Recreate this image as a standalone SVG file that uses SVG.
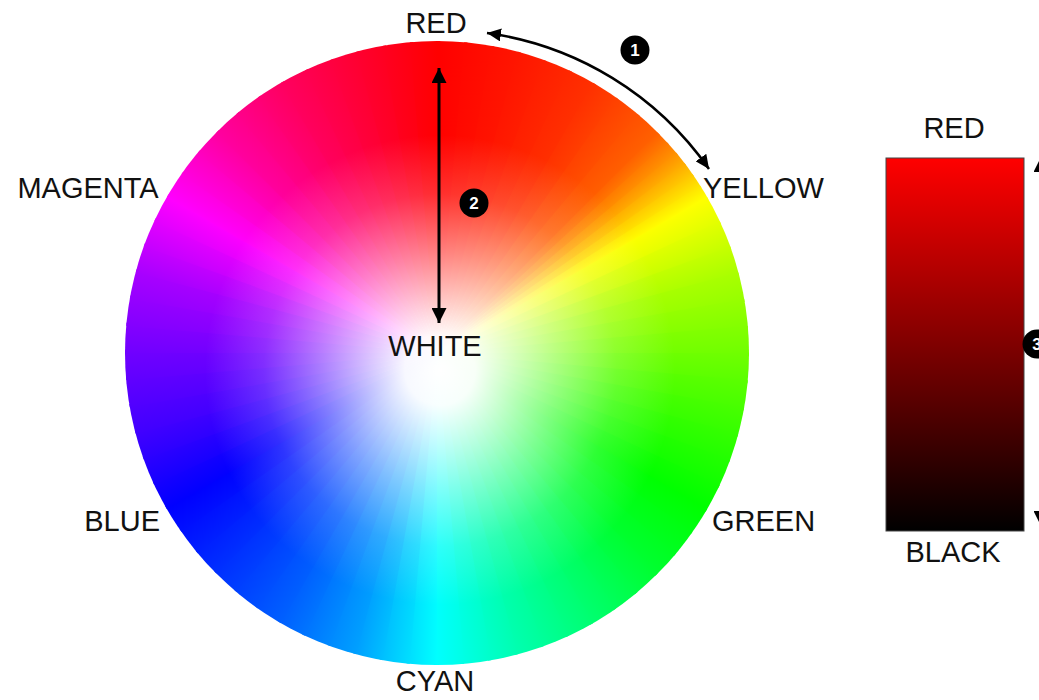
<svg xmlns="http://www.w3.org/2000/svg" xmlns:xlink="http://www.w3.org/1999/xlink" width="1039" height="700" viewBox="0 0 1039 700">
<style>
.lbl{font-family:"Liberation Sans",Arial,sans-serif;font-size:29px;fill:#111}
.num{font-family:"Liberation Sans",Arial,sans-serif;font-size:17px;font-weight:bold;fill:#fff;text-anchor:middle}
.badge{fill:#000}
.ln{fill:none;stroke:#000;stroke-width:3}
.arc{fill:none;stroke:#000;stroke-width:2.5}
</style>
<defs>
<marker id="ah" viewBox="0 0 15 15" refX="15" refY="7.5" markerWidth="15" markerHeight="15" markerUnits="userSpaceOnUse" orient="auto-start-reverse"><path d="M0,0 L15,7.5 L0,15 z" fill="#000"/></marker>
<marker id="ah2" viewBox="0 0 14 13" refX="14" refY="6.5" markerWidth="14" markerHeight="13" markerUnits="userSpaceOnUse" orient="auto-start-reverse"><path d="M0,0 L14,6.5 L0,13 z" fill="#000"/></marker>
<clipPath id="cc"><circle cx="0" cy="0" r="312"/></clipPath>
<radialGradient id="wh" cx="440" cy="370" r="235" gradientUnits="userSpaceOnUse">
<stop offset="0" stop-color="#fff" stop-opacity="1"/>
<stop offset="0.15" stop-color="#fff" stop-opacity="0.97"/>
<stop offset="0.5" stop-color="#fff" stop-opacity="0.5"/>
<stop offset="0.75" stop-color="#fff" stop-opacity="0.18"/>
<stop offset="1" stop-color="#fff" stop-opacity="0"/>
</radialGradient>
<linearGradient id="bar" x1="0" y1="0" x2="0" y2="1">
<stop offset="0" stop-color="#ff0000"/><stop offset="1" stop-color="#000"/>
</linearGradient>
<linearGradient id="gb" gradientUnits="userSpaceOnUse" x1="0" y1="-312" x2="27.19" y2="-310.81"/>
<linearGradient id="gh" gradientUnits="userSpaceOnUse" x1="0" y1="-312" x2="13.61" y2="-311.7"/>
<linearGradient id="g0" xlink:href="#gb"><stop offset="0" stop-color="#ff0000"/><stop offset="1" stop-color="#ff0700"/></linearGradient>
<linearGradient id="g1" xlink:href="#gb"><stop offset="0" stop-color="#ff0700"/><stop offset="1" stop-color="#ff0e00"/></linearGradient>
<linearGradient id="g2" xlink:href="#gb"><stop offset="0" stop-color="#ff0e00"/><stop offset="1" stop-color="#ff1500"/></linearGradient>
<linearGradient id="g3" xlink:href="#gb"><stop offset="0" stop-color="#ff1500"/><stop offset="1" stop-color="#ff1e00"/></linearGradient>
<linearGradient id="g4" xlink:href="#gb"><stop offset="0" stop-color="#ff1e00"/><stop offset="1" stop-color="#ff2700"/></linearGradient>
<linearGradient id="g5" xlink:href="#gb"><stop offset="0" stop-color="#ff2700"/><stop offset="1" stop-color="#ff3000"/></linearGradient>
<linearGradient id="g6" xlink:href="#gb"><stop offset="0" stop-color="#ff3000"/><stop offset="1" stop-color="#ff4000"/></linearGradient>
<linearGradient id="g7" xlink:href="#gb"><stop offset="0" stop-color="#ff4000"/><stop offset="1" stop-color="#ff5000"/></linearGradient>
<linearGradient id="g8" xlink:href="#gb"><stop offset="0" stop-color="#ff5000"/><stop offset="1" stop-color="#ff6000"/></linearGradient>
<linearGradient id="k0" xlink:href="#gh"><stop offset="0" stop-color="#ff6000"/><stop offset="1" stop-color="#ff7800"/></linearGradient>
<linearGradient id="k1" xlink:href="#gh"><stop offset="0" stop-color="#ff7800"/><stop offset="1" stop-color="#ff9000"/></linearGradient>
<linearGradient id="k2" xlink:href="#gh"><stop offset="0" stop-color="#ff9000"/><stop offset="1" stop-color="#ffac00"/></linearGradient>
<linearGradient id="k3" xlink:href="#gh"><stop offset="0" stop-color="#ffac00"/><stop offset="1" stop-color="#ffc800"/></linearGradient>
<linearGradient id="k4" xlink:href="#gh"><stop offset="0" stop-color="#ffc800"/><stop offset="1" stop-color="#ffe400"/></linearGradient>
<linearGradient id="k5" xlink:href="#gh"><stop offset="0" stop-color="#ffe400"/><stop offset="1" stop-color="#ffff00"/></linearGradient>
<linearGradient id="g12" xlink:href="#gb"><stop offset="0" stop-color="#ffff00"/><stop offset="1" stop-color="#e3ff00"/></linearGradient>
<linearGradient id="g13" xlink:href="#gb"><stop offset="0" stop-color="#e3ff00"/><stop offset="1" stop-color="#c6ff00"/></linearGradient>
<linearGradient id="g14" xlink:href="#gb"><stop offset="0" stop-color="#c6ff00"/><stop offset="1" stop-color="#aaff00"/></linearGradient>
<linearGradient id="g15" xlink:href="#gb"><stop offset="0" stop-color="#aaff00"/><stop offset="1" stop-color="#97ff00"/></linearGradient>
<linearGradient id="g16" xlink:href="#gb"><stop offset="0" stop-color="#97ff00"/><stop offset="1" stop-color="#83ff00"/></linearGradient>
<linearGradient id="g17" xlink:href="#gb"><stop offset="0" stop-color="#83ff00"/><stop offset="1" stop-color="#70ff00"/></linearGradient>
<linearGradient id="g18" xlink:href="#gb"><stop offset="0" stop-color="#70ff00"/><stop offset="1" stop-color="#5bff00"/></linearGradient>
<linearGradient id="g19" xlink:href="#gb"><stop offset="0" stop-color="#5bff00"/><stop offset="1" stop-color="#48ff00"/></linearGradient>
<linearGradient id="g20" xlink:href="#gb"><stop offset="0" stop-color="#48ff00"/><stop offset="1" stop-color="#35ff00"/></linearGradient>
<linearGradient id="g21" xlink:href="#gb"><stop offset="0" stop-color="#35ff00"/><stop offset="1" stop-color="#23ff00"/></linearGradient>
<linearGradient id="g22" xlink:href="#gb"><stop offset="0" stop-color="#23ff00"/><stop offset="1" stop-color="#12ff00"/></linearGradient>
<linearGradient id="g23" xlink:href="#gb"><stop offset="0" stop-color="#12ff00"/><stop offset="1" stop-color="#00ff00"/></linearGradient>
<linearGradient id="g24" xlink:href="#gb"><stop offset="0" stop-color="#00ff00"/><stop offset="1" stop-color="#00ff10"/></linearGradient>
<linearGradient id="g25" xlink:href="#gb"><stop offset="0" stop-color="#00ff10"/><stop offset="1" stop-color="#00ff20"/></linearGradient>
<linearGradient id="g26" xlink:href="#gb"><stop offset="0" stop-color="#00ff20"/><stop offset="1" stop-color="#00ff30"/></linearGradient>
<linearGradient id="g27" xlink:href="#gb"><stop offset="0" stop-color="#00ff30"/><stop offset="1" stop-color="#00ff45"/></linearGradient>
<linearGradient id="g28" xlink:href="#gb"><stop offset="0" stop-color="#00ff45"/><stop offset="1" stop-color="#00ff5b"/></linearGradient>
<linearGradient id="g29" xlink:href="#gb"><stop offset="0" stop-color="#00ff5b"/><stop offset="1" stop-color="#00ff70"/></linearGradient>
<linearGradient id="g30" xlink:href="#gb"><stop offset="0" stop-color="#00ff70"/><stop offset="1" stop-color="#00ff85"/></linearGradient>
<linearGradient id="g31" xlink:href="#gb"><stop offset="0" stop-color="#00ff85"/><stop offset="1" stop-color="#00ff9b"/></linearGradient>
<linearGradient id="g32" xlink:href="#gb"><stop offset="0" stop-color="#00ff9b"/><stop offset="1" stop-color="#00ffb0"/></linearGradient>
<linearGradient id="g33" xlink:href="#gb"><stop offset="0" stop-color="#00ffb0"/><stop offset="1" stop-color="#00ffca"/></linearGradient>
<linearGradient id="g34" xlink:href="#gb"><stop offset="0" stop-color="#00ffca"/><stop offset="1" stop-color="#00ffe5"/></linearGradient>
<linearGradient id="g35" xlink:href="#gb"><stop offset="0" stop-color="#00ffe5"/><stop offset="1" stop-color="#00ffff"/></linearGradient>
<linearGradient id="g36" xlink:href="#gb"><stop offset="0" stop-color="#00ffff"/><stop offset="1" stop-color="#00dfff"/></linearGradient>
<linearGradient id="g37" xlink:href="#gb"><stop offset="0" stop-color="#00dfff"/><stop offset="1" stop-color="#00c0ff"/></linearGradient>
<linearGradient id="g38" xlink:href="#gb"><stop offset="0" stop-color="#00c0ff"/><stop offset="1" stop-color="#00a0ff"/></linearGradient>
<linearGradient id="g39" xlink:href="#gb"><stop offset="0" stop-color="#00a0ff"/><stop offset="1" stop-color="#008bff"/></linearGradient>
<linearGradient id="g40" xlink:href="#gb"><stop offset="0" stop-color="#008bff"/><stop offset="1" stop-color="#0075ff"/></linearGradient>
<linearGradient id="g41" xlink:href="#gb"><stop offset="0" stop-color="#0075ff"/><stop offset="1" stop-color="#0060ff"/></linearGradient>
<linearGradient id="g42" xlink:href="#gb"><stop offset="0" stop-color="#0060ff"/><stop offset="1" stop-color="#0050ff"/></linearGradient>
<linearGradient id="g43" xlink:href="#gb"><stop offset="0" stop-color="#0050ff"/><stop offset="1" stop-color="#0040ff"/></linearGradient>
<linearGradient id="g44" xlink:href="#gb"><stop offset="0" stop-color="#0040ff"/><stop offset="1" stop-color="#0030ff"/></linearGradient>
<linearGradient id="g45" xlink:href="#gb"><stop offset="0" stop-color="#0030ff"/><stop offset="1" stop-color="#0020ff"/></linearGradient>
<linearGradient id="g46" xlink:href="#gb"><stop offset="0" stop-color="#0020ff"/><stop offset="1" stop-color="#0010ff"/></linearGradient>
<linearGradient id="g47" xlink:href="#gb"><stop offset="0" stop-color="#0010ff"/><stop offset="1" stop-color="#0000ff"/></linearGradient>
<linearGradient id="g48" xlink:href="#gb"><stop offset="0" stop-color="#0000ff"/><stop offset="1" stop-color="#1500ff"/></linearGradient>
<linearGradient id="g49" xlink:href="#gb"><stop offset="0" stop-color="#1500ff"/><stop offset="1" stop-color="#2b00ff"/></linearGradient>
<linearGradient id="g50" xlink:href="#gb"><stop offset="0" stop-color="#2b00ff"/><stop offset="1" stop-color="#4000ff"/></linearGradient>
<linearGradient id="g51" xlink:href="#gb"><stop offset="0" stop-color="#4000ff"/><stop offset="1" stop-color="#5000ff"/></linearGradient>
<linearGradient id="g52" xlink:href="#gb"><stop offset="0" stop-color="#5000ff"/><stop offset="1" stop-color="#6000ff"/></linearGradient>
<linearGradient id="g53" xlink:href="#gb"><stop offset="0" stop-color="#6000ff"/><stop offset="1" stop-color="#7000ff"/></linearGradient>
<linearGradient id="g54" xlink:href="#gb"><stop offset="0" stop-color="#7000ff"/><stop offset="1" stop-color="#8300ff"/></linearGradient>
<linearGradient id="g55" xlink:href="#gb"><stop offset="0" stop-color="#8300ff"/><stop offset="1" stop-color="#9500ff"/></linearGradient>
<linearGradient id="g56" xlink:href="#gb"><stop offset="0" stop-color="#9500ff"/><stop offset="1" stop-color="#a800ff"/></linearGradient>
<linearGradient id="g57" xlink:href="#gb"><stop offset="0" stop-color="#a800ff"/><stop offset="1" stop-color="#c500ff"/></linearGradient>
<linearGradient id="g58" xlink:href="#gb"><stop offset="0" stop-color="#c500ff"/><stop offset="1" stop-color="#e200ff"/></linearGradient>
<linearGradient id="g59" xlink:href="#gb"><stop offset="0" stop-color="#e200ff"/><stop offset="1" stop-color="#ff00ff"/></linearGradient>
<linearGradient id="g60" xlink:href="#gb"><stop offset="0" stop-color="#ff00ff"/><stop offset="1" stop-color="#ff00df"/></linearGradient>
<linearGradient id="g61" xlink:href="#gb"><stop offset="0" stop-color="#ff00df"/><stop offset="1" stop-color="#ff00c0"/></linearGradient>
<linearGradient id="g62" xlink:href="#gb"><stop offset="0" stop-color="#ff00c0"/><stop offset="1" stop-color="#ff00a0"/></linearGradient>
<linearGradient id="g63" xlink:href="#gb"><stop offset="0" stop-color="#ff00a0"/><stop offset="1" stop-color="#ff008b"/></linearGradient>
<linearGradient id="g64" xlink:href="#gb"><stop offset="0" stop-color="#ff008b"/><stop offset="1" stop-color="#ff0075"/></linearGradient>
<linearGradient id="g65" xlink:href="#gb"><stop offset="0" stop-color="#ff0075"/><stop offset="1" stop-color="#ff0060"/></linearGradient>
<linearGradient id="g66" xlink:href="#gb"><stop offset="0" stop-color="#ff0060"/><stop offset="1" stop-color="#ff0050"/></linearGradient>
<linearGradient id="g67" xlink:href="#gb"><stop offset="0" stop-color="#ff0050"/><stop offset="1" stop-color="#ff0040"/></linearGradient>
<linearGradient id="g68" xlink:href="#gb"><stop offset="0" stop-color="#ff0040"/><stop offset="1" stop-color="#ff0030"/></linearGradient>
<linearGradient id="g69" xlink:href="#gb"><stop offset="0" stop-color="#ff0030"/><stop offset="1" stop-color="#ff0020"/></linearGradient>
<linearGradient id="g70" xlink:href="#gb"><stop offset="0" stop-color="#ff0020"/><stop offset="1" stop-color="#ff0010"/></linearGradient>
<linearGradient id="g71" xlink:href="#gb"><stop offset="0" stop-color="#ff0010"/><stop offset="1" stop-color="#ff0000"/></linearGradient>
<polygon id="wd" points="0,0 0,-330 32.2,-328.43"/>
<polygon id="wh2" points="0,0 0,-330 17.27,-329.55"/>
</defs>
<rect width="1039" height="700" fill="#fff"/>
<g id="wheel">
<g transform="translate(437,353)">
<g clip-path="url(#cc)">
<use xlink:href="#wd" fill="url(#g0)" transform="rotate(0)"/>
<use xlink:href="#wd" fill="url(#g1)" transform="rotate(5)"/>
<use xlink:href="#wd" fill="url(#g2)" transform="rotate(10)"/>
<use xlink:href="#wd" fill="url(#g3)" transform="rotate(15)"/>
<use xlink:href="#wd" fill="url(#g4)" transform="rotate(20)"/>
<use xlink:href="#wd" fill="url(#g5)" transform="rotate(25)"/>
<use xlink:href="#wd" fill="url(#g6)" transform="rotate(30)"/>
<use xlink:href="#wd" fill="url(#g7)" transform="rotate(35)"/>
<use xlink:href="#wd" fill="url(#g8)" transform="rotate(40)"/>
<use xlink:href="#wh2" fill="url(#k0)" transform="rotate(45)"/>
<use xlink:href="#wh2" fill="url(#k1)" transform="rotate(47.5)"/>
<use xlink:href="#wh2" fill="url(#k2)" transform="rotate(50)"/>
<use xlink:href="#wh2" fill="url(#k3)" transform="rotate(52.5)"/>
<use xlink:href="#wh2" fill="url(#k4)" transform="rotate(55)"/>
<use xlink:href="#wh2" fill="url(#k5)" transform="rotate(57.5)"/>
<use xlink:href="#wd" fill="url(#g12)" transform="rotate(60)"/>
<use xlink:href="#wd" fill="url(#g13)" transform="rotate(65)"/>
<use xlink:href="#wd" fill="url(#g14)" transform="rotate(70)"/>
<use xlink:href="#wd" fill="url(#g15)" transform="rotate(75)"/>
<use xlink:href="#wd" fill="url(#g16)" transform="rotate(80)"/>
<use xlink:href="#wd" fill="url(#g17)" transform="rotate(85)"/>
<use xlink:href="#wd" fill="url(#g18)" transform="rotate(90)"/>
<use xlink:href="#wd" fill="url(#g19)" transform="rotate(95)"/>
<use xlink:href="#wd" fill="url(#g20)" transform="rotate(100)"/>
<use xlink:href="#wd" fill="url(#g21)" transform="rotate(105)"/>
<use xlink:href="#wd" fill="url(#g22)" transform="rotate(110)"/>
<use xlink:href="#wd" fill="url(#g23)" transform="rotate(115)"/>
<use xlink:href="#wd" fill="url(#g24)" transform="rotate(120)"/>
<use xlink:href="#wd" fill="url(#g25)" transform="rotate(125)"/>
<use xlink:href="#wd" fill="url(#g26)" transform="rotate(130)"/>
<use xlink:href="#wd" fill="url(#g27)" transform="rotate(135)"/>
<use xlink:href="#wd" fill="url(#g28)" transform="rotate(140)"/>
<use xlink:href="#wd" fill="url(#g29)" transform="rotate(145)"/>
<use xlink:href="#wd" fill="url(#g30)" transform="rotate(150)"/>
<use xlink:href="#wd" fill="url(#g31)" transform="rotate(155)"/>
<use xlink:href="#wd" fill="url(#g32)" transform="rotate(160)"/>
<use xlink:href="#wd" fill="url(#g33)" transform="rotate(165)"/>
<use xlink:href="#wd" fill="url(#g34)" transform="rotate(170)"/>
<use xlink:href="#wd" fill="url(#g35)" transform="rotate(175)"/>
<use xlink:href="#wd" fill="url(#g36)" transform="rotate(180)"/>
<use xlink:href="#wd" fill="url(#g37)" transform="rotate(185)"/>
<use xlink:href="#wd" fill="url(#g38)" transform="rotate(190)"/>
<use xlink:href="#wd" fill="url(#g39)" transform="rotate(195)"/>
<use xlink:href="#wd" fill="url(#g40)" transform="rotate(200)"/>
<use xlink:href="#wd" fill="url(#g41)" transform="rotate(205)"/>
<use xlink:href="#wd" fill="url(#g42)" transform="rotate(210)"/>
<use xlink:href="#wd" fill="url(#g43)" transform="rotate(215)"/>
<use xlink:href="#wd" fill="url(#g44)" transform="rotate(220)"/>
<use xlink:href="#wd" fill="url(#g45)" transform="rotate(225)"/>
<use xlink:href="#wd" fill="url(#g46)" transform="rotate(230)"/>
<use xlink:href="#wd" fill="url(#g47)" transform="rotate(235)"/>
<use xlink:href="#wd" fill="url(#g48)" transform="rotate(240)"/>
<use xlink:href="#wd" fill="url(#g49)" transform="rotate(245)"/>
<use xlink:href="#wd" fill="url(#g50)" transform="rotate(250)"/>
<use xlink:href="#wd" fill="url(#g51)" transform="rotate(255)"/>
<use xlink:href="#wd" fill="url(#g52)" transform="rotate(260)"/>
<use xlink:href="#wd" fill="url(#g53)" transform="rotate(265)"/>
<use xlink:href="#wd" fill="url(#g54)" transform="rotate(270)"/>
<use xlink:href="#wd" fill="url(#g55)" transform="rotate(275)"/>
<use xlink:href="#wd" fill="url(#g56)" transform="rotate(280)"/>
<use xlink:href="#wd" fill="url(#g57)" transform="rotate(285)"/>
<use xlink:href="#wd" fill="url(#g58)" transform="rotate(290)"/>
<use xlink:href="#wd" fill="url(#g59)" transform="rotate(295)"/>
<use xlink:href="#wd" fill="url(#g60)" transform="rotate(300)"/>
<use xlink:href="#wd" fill="url(#g61)" transform="rotate(305)"/>
<use xlink:href="#wd" fill="url(#g62)" transform="rotate(310)"/>
<use xlink:href="#wd" fill="url(#g63)" transform="rotate(315)"/>
<use xlink:href="#wd" fill="url(#g64)" transform="rotate(320)"/>
<use xlink:href="#wd" fill="url(#g65)" transform="rotate(325)"/>
<use xlink:href="#wd" fill="url(#g66)" transform="rotate(330)"/>
<use xlink:href="#wd" fill="url(#g67)" transform="rotate(335)"/>
<use xlink:href="#wd" fill="url(#g68)" transform="rotate(340)"/>
<use xlink:href="#wd" fill="url(#g69)" transform="rotate(345)"/>
<use xlink:href="#wd" fill="url(#g70)" transform="rotate(350)"/>
<use xlink:href="#wd" fill="url(#g71)" transform="rotate(355)"/>
</g>
</g>
<circle cx="437" cy="353" r="312" fill="url(#wh)"/>
</g>
<g id="labels">
<text class="lbl" x="436" y="33" text-anchor="middle">RED</text>
<text class="lbl" x="435" y="356" text-anchor="middle">WHITE</text>
<text class="lbl" x="88" y="198" text-anchor="middle">MAGENTA</text>
<text class="lbl" x="703" y="198">YELLOW</text>
<text class="lbl" x="160" y="531" text-anchor="end">BLUE</text>
<text class="lbl" x="712" y="531">GREEN</text>
<text class="lbl" x="435" y="691" text-anchor="middle">CYAN</text>
</g>
<g id="scale">
<rect x="886" y="158" width="138" height="373" fill="url(#bar)" stroke="#444" stroke-width="1"/>
<text class="lbl" x="954" y="138" text-anchor="middle">RED</text>
<text class="lbl" x="953" y="562" text-anchor="middle">BLACK</text>
</g>
<g id="connectors">
<path class="arc" d="M487,33 A326,326 0 0 1 709,169" marker-start="url(#ah2)" marker-end="url(#ah2)"/>
<line class="ln" x1="439" y1="68" x2="439" y2="323" marker-start="url(#ah)" marker-end="url(#ah)"/>
<line class="ln" x1="1041" y1="157" x2="1041" y2="526" marker-start="url(#ah)" marker-end="url(#ah)"/>
</g>
<g id="badge1"><circle class="badge" cx="635" cy="50" r="14.5"/><text class="num" x="635" y="56">1</text></g>
<g id="badge2"><circle class="badge" cx="474" cy="203" r="14.5"/><text class="num" x="474" y="209">2</text></g>
<g id="badge3"><circle class="badge" cx="1037" cy="344" r="14.5"/><text class="num" x="1037" y="350">3</text></g>
</svg>
